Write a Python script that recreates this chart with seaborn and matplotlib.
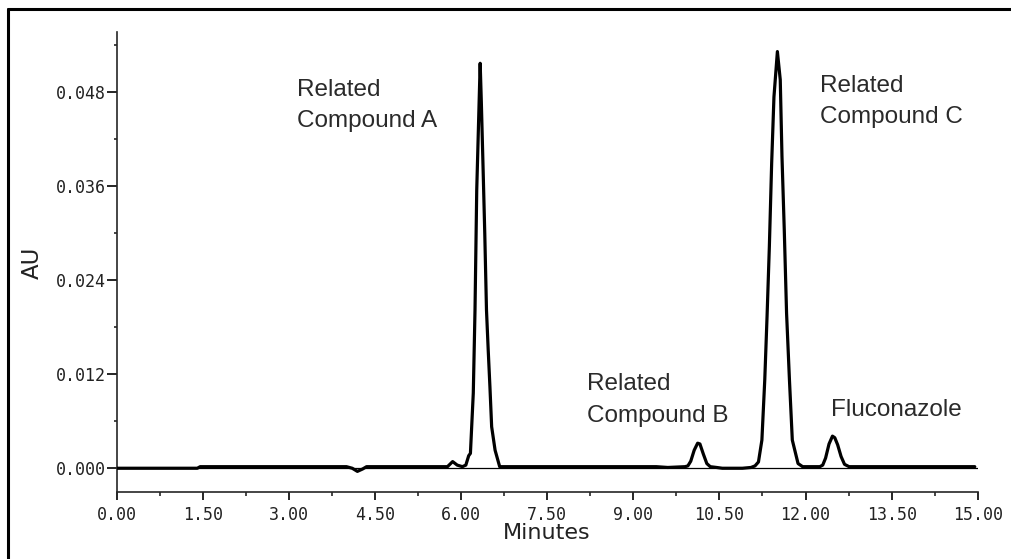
import numpy as np
import pandas as pd
import matplotlib.pyplot as plt
import seaborn as sns
from matplotlib.lines import Line2D
from matplotlib.ticker import MultipleLocator, FormatStrFormatter

# Trace (minutes, AU)
base_time = [0.00, 1.40, 1.45, 4.00, 4.10, 4.19, 4.28, 4.35, 5.76, 5.85, 5.93, 6.02, 6.08, 6.13]
base_au = [0.0000, 0.0000, 0.0002, 0.0002, 0.0000, -0.0004, -0.0001, 0.0002, 0.0002, 0.00085, 0.0004, 0.0002, 0.0004, 0.0016]

peak_a_time = [6.16, 6.21, 6.24, 6.27, 6.30, 6.33, 6.35, 6.38, 6.41, 6.44, 6.47, 6.50, 6.53, 6.59, 6.67]
peak_a_au = [0.0019, 0.0096, 0.0202, 0.0355, 0.0436, 0.0517, 0.0468, 0.0385, 0.0300, 0.0202, 0.0151, 0.0104, 0.0053, 0.0023, 0.0002]

mid_time = [6.75, 9.40, 9.60, 9.90]
mid_au = [0.0002, 0.0002, 0.0001, 0.0002]

peak_b_time = [9.95, 10.00, 10.06, 10.12, 10.16, 10.22, 10.28, 10.34]
peak_b_au = [0.0003, 0.0009, 0.0023, 0.0032, 0.0031, 0.0018, 0.0006, 0.0002]

gap_time = [10.45, 10.55, 10.90, 11.05, 11.12]
gap_au = [0.0001, 0.0000, 0.0000, 0.0001, 0.0003]

peak_c_time = [11.18, 11.24, 11.29, 11.33, 11.37, 11.41, 11.45, 11.51, 11.56, 11.59, 11.63, 11.67, 11.72, 11.77, 11.87]
peak_c_au = [0.0008, 0.0036, 0.0113, 0.0194, 0.0283, 0.0389, 0.0474, 0.0532, 0.0496, 0.0398, 0.0304, 0.0198, 0.0113, 0.0036, 0.0006]

peak_f_time = [11.95, 12.25, 12.30, 12.35, 12.41, 12.47, 12.51, 12.56, 12.62, 12.68, 12.76]
peak_f_au = [0.0002, 0.0002, 0.0004, 0.0013, 0.0031, 0.0041, 0.0039, 0.0030, 0.0015, 0.0005, 0.0002]

tail_time = [13.00, 14.95]
tail_au = [0.0002, 0.0002]

df = pd.DataFrame({
    "Minutes": base_time + peak_a_time + mid_time + peak_b_time + gap_time + peak_c_time + peak_f_time + tail_time,
    "AU": base_au + peak_a_au + mid_au + peak_b_au + gap_au + peak_c_au + peak_f_au + tail_au,
}).sort_values("Minutes")

labels = ["Related\nCompound A", "Related\nCompound B", "Related\nCompound C", "Fluconazole"]
label_pos = [(3.14, 0.0497), (8.19, 0.0121), (12.25, 0.0502), (12.44, 0.0089)]

sns.set_style("ticks")
plt.rcParams['font.family'] = ['DejaVu Sans']

fig = plt.figure(figsize=(10.11, 5.59), dpi=100)
ax = fig.add_axes([0.1157, 0.1199, 0.967 - 0.1157, 0.9428 - 0.1199])

ax.axhline(0, color="black", lw=0.9, zorder=1)
sns.lineplot(data=df, x="Minutes", y="AU", ax=ax, color="black", lw=2.3, zorder=3,
             estimator=None, sort=False)

ax.set_xlim(0, 15)
ax.set_ylim(-0.00303, 0.0557)
ax.xaxis.set_major_locator(MultipleLocator(1.5))
ax.xaxis.set_minor_locator(MultipleLocator(0.75))
ax.set_yticks([0.0, 0.012, 0.024, 0.036, 0.048])
ax.set_yticks([0.006, 0.018, 0.030, 0.042, 0.054], minor=True)
ax.xaxis.set_major_formatter(FormatStrFormatter("%.2f"))
ax.yaxis.set_major_formatter(FormatStrFormatter("%.3f"))

for lab in ax.get_xticklabels() + ax.get_yticklabels():
    lab.set_family("DejaVu Sans Mono")
    lab.set_fontsize(12)
    lab.set_color("#222222")

ax.tick_params(axis="both", which="major", direction="out", width=1.2, color="black")
ax.tick_params(axis="x", which="major", length=6, pad=4)
ax.tick_params(axis="x", which="minor", length=3, width=1.2)
ax.tick_params(axis="y", which="major", length=7, pad=1)
ax.tick_params(axis="y", which="minor", length=2, width=1.2)

for side in ["top", "right"]:
    ax.spines[side].set_visible(False)
for side in ["left", "bottom"]:
    ax.spines[side].set_linewidth(1.2)

ax.set_xlabel("")
ax.set_ylabel("")
fig.text(503 / 1011, 1 - 533 / 559, "Minutes", fontsize=16, va="center", ha="left",
         family="DejaVu Sans", color="#222222")
fig.text(32 / 1011, 1 - 263 / 559, "AU", fontsize=16.5, va="center", ha="center",
         rotation=90, family="DejaVu Sans", color="#222222")

for text, (tx, ty) in zip(labels, label_pos):
    ax.text(tx, ty, text, fontsize=17.5, family="Liberation Sans", color="#2a2a2a",
            va="top", ha="left", linespacing=1.55)

# frame around the figure (top and left visible, rest cropped)
fig.add_artist(Line2D([8 / 1011, 1.0], [1 - 9 / 559, 1 - 9 / 559], color="black", lw=2.2,
                      transform=fig.transFigure))
fig.add_artist(Line2D([8 / 1011, 8 / 1011], [0.0, 1 - 9 / 559], color="black", lw=2.2,
                      transform=fig.transFigure))

fig.savefig("out.png", dpi=100)
